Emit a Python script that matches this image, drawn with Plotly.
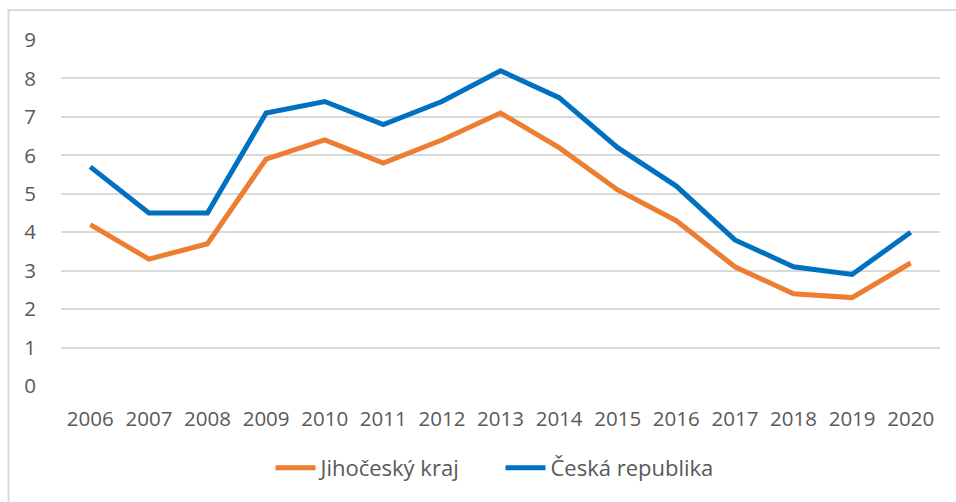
import plotly.graph_objects as go

years = ["2006", "2007", "2008", "2009", "2010", "2011", "2012", "2013",
         "2014", "2015", "2016", "2017", "2018", "2019", "2020"]
jihocesky = [4.2, 3.3, 3.7, 5.9, 6.4, 5.8, 6.4, 7.1, 6.2, 5.1, 4.3, 3.1, 2.4, 2.3, 3.2]
cr = [5.7, 4.5, 4.5, 7.1, 7.4, 6.8, 7.4, 8.2, 7.5, 6.2, 5.2, 3.8, 3.1, 2.9, 4.0]
y_ticks = [0, 1, 2, 3, 4, 5, 6, 7, 8, 9]

FONT = "Open Sans"
TXT = "#595959"

fig = go.Figure()
fig.add_trace(go.Scatter(x=years, y=jihocesky, mode="lines", name="Jihočeský kraj",
                         line=dict(color="#ED7D31", width=5)))
fig.add_trace(go.Scatter(x=years, y=cr, mode="lines", name="Česká republika",
                         line=dict(color="#0070C0", width=5)))

fig.update_layout(
    width=956, height=502,
    margin=dict(l=61, r=16, t=40, b=116),
    paper_bgcolor="white", plot_bgcolor="white",
    font=dict(family=FONT, color=TXT, size=20),
    showlegend=True,
    legend=dict(orientation="h", x=0.5, xanchor="center", y=-0.237, yanchor="middle",
                font=dict(size=22, color=TXT, family=FONT), itemwidth=40,
                entrywidth=175, entrywidthmode="pixels",
                traceorder="normal"),
    xaxis=dict(type="category", range=[-0.5, 14.5], showgrid=False, zeroline=False,
               showline=False, ticks="outside", ticklen=14, tickcolor="rgba(0,0,0,0)",
               tickfont=dict(size=20.5, color=TXT)),
    yaxis=dict(range=[0, 9], tickvals=y_ticks, showgrid=True, gridcolor="#D9D9D9",
               gridwidth=2, zeroline=False, showline=False, ticks="outside",
               ticklen=20, tickcolor="rgba(0,0,0,0)", tickfont=dict(size=20.5, color=TXT)),
    shapes=[dict(type="rect", xref="paper", yref="paper", x0=-0.0597, x1=1.2,
                 y0=-0.6, y1=1.0867, line=dict(color="#D9D9D9", width=2),
                 fillcolor="rgba(0,0,0,0)", layer="below")],
)

fig.write_html("out.html", config={"displayModeBar": False})
with open("out.html", "r", encoding="utf-8") as f:
    html = f.read()
html = html.replace("<head>", "<head><style>html,body{margin:0;padding:0;}</style>", 1)
with open("out.html", "w", encoding="utf-8") as f:
    f.write(html)
